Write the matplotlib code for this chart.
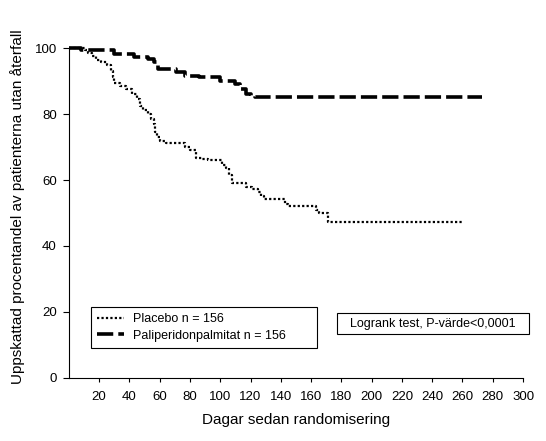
import matplotlib
matplotlib.use("Agg")
import matplotlib.pyplot as plt
from matplotlib.patches import Rectangle

# Kaplan-Meier estimates (days, % without relapse)
placebo_days = [0, 11, 13, 15, 18, 21, 25, 28, 29, 30, 34, 38, 42, 45, 47, 49, 52, 54, 56, 57,
                58, 60, 64, 77, 80, 84, 88, 92, 101, 104, 106, 108, 117, 121, 125, 127, 129,
                143, 145, 163, 165, 171, 260]
placebo_surv = [100, 99.4, 98.6, 97.7, 96.5, 95.7, 94.9, 93, 91.2, 89.4, 88.6, 87.6, 86, 84.5,
                82.5, 81.3, 80, 78.5, 77, 74.5, 72.9, 71.9, 71.1, 70, 69, 66.8, 66.4, 66, 64.5,
                63.5, 61.5, 59, 58, 57.2, 56.5, 55.3, 54.1, 52.8, 52.1, 50.9, 49.9, 47.4, 47.4]

pali_days = [0, 8, 30, 43, 52, 56, 59, 71, 77, 86, 100, 110, 113, 117, 120, 123, 273]
pali_surv = [100, 99.5, 98.2, 97.2, 96.6, 95.8, 93.6, 92.6, 91.6, 91.1, 89.9, 89.0, 87.6,
             86.0, 85.5, 85.2, 85.2]

labels = ["Placebo n = 156", "Paliperidonpalmitat n = 156"]
x_ticks = list(range(20, 301, 20))
y_ticks = list(range(0, 101, 20))
logrank_text = "Logrank test, P-värde<0,0001"

plt.rcParams['font.family'] = ['Liberation Sans', 'DejaVu Sans']

fig = plt.figure(figsize=(5.46, 4.41), dpi=100)
ax = fig.add_axes([0.126, 0.143, 0.832, 0.748])

ax.plot(placebo_days, placebo_surv, drawstyle='steps-post', color='black',
        linestyle=(0, (1, 1)), linewidth=1.6, clip_on=False, label=labels[0])
ax.plot(pali_days, pali_surv, drawstyle='steps-post', color='black',
        linestyle=(0, (4.5, 1.4)), linewidth=2.6, clip_on=False, label=labels[1])

ax.set_xlim(0, 300)
ax.set_ylim(0, 100)
ax.set_xticks(x_ticks)
ax.set_yticks(y_ticks)
ax.spines['top'].set_visible(False)
ax.spines['right'].set_visible(False)
for s in ['left', 'bottom']:
    ax.spines[s].set_linewidth(0.8)
ax.tick_params(axis='x', length=3, width=0.8, pad=6.5, labelsize=9.5)
ax.tick_params(axis='y', length=4.3, width=0.8, pad=4.3, labelsize=9.5)

ax.set_xlabel("Dagar sedan randomisering", fontsize=11)
ax.set_ylabel("Uppskattad procentandel av patienterna utan återfall", fontsize=11)
ax.xaxis.set_label_coords(0.5, -0.105)
ax.yaxis.set_label_coords(-0.096, 0.518)

leg = ax.legend(loc='center left', bbox_to_anchor=(0.049, 0.085, 0.498, 0.136),
                mode='expand', frameon=True, fancybox=False, edgecolor='black',
                framealpha=1, fontsize=9, handlelength=2.1, handletextpad=0.75,
                borderaxespad=0, borderpad=0.5, labelspacing=0.35)
leg.get_frame().set_linewidth(0.8)

# logrank box
fig.patches.append(Rectangle((337 / 546, 1 - 334 / 441), 192 / 546, 21 / 441,
                             transform=fig.transFigure, fill=False,
                             edgecolor='black', linewidth=0.8))
fig.text(433 / 546, 1 - 324 / 441, logrank_text, fontsize=9, ha='center', va='center')

fig.savefig("out.png", dpi=100)
